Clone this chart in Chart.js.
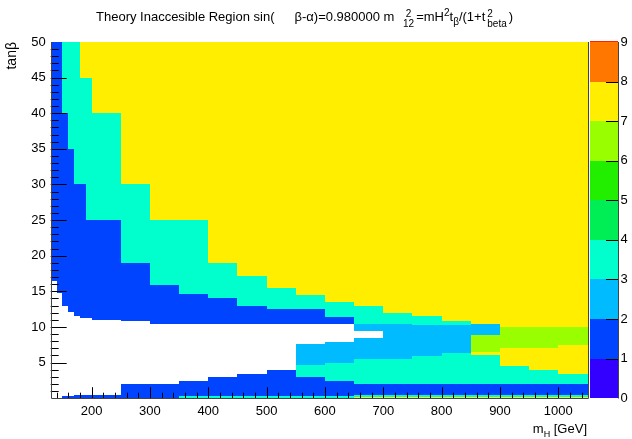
<!DOCTYPE html>
<html>
<head>
<meta charset="utf-8">
<script src="https://cdn.jsdelivr.net/npm/chart.js@4"></script>
<style>
  body { margin: 0; background: #fff; }
  #wrap { position: relative; width: 632px; height: 439px; font-family: "Liberation Sans", Arial, sans-serif; }
  #titre { position: absolute; left: 96px; top: 8px; font-size: 13px; white-space: nowrap; color: #000; }
  #xtitre { position: absolute; right: 45px; top: 421px; font-size: 13px; white-space: nowrap; color: #000; }
  .pile { display: inline-block; vertical-align: middle; line-height: 10px; font-size: 10px; text-align: left; margin: 0 2px; position: relative; top: 1px; }
  .pile span { display: block; }
  sup, sub { font-size: 10px; line-height: 0; }
</style>
</head>
<body>
<div id="wrap">
  <canvas id="grafico" width="632" height="439"></canvas>
  <div id="titre">Theory Inaccesible Region sin(<span style="margin-left:20px">β-α)=0.980000 m </span><span class="pile" style="margin-left:5px"><span>&nbsp;2</span><span>12</span></span>=mH<sup>2</sup>t<sub>β</sub>/(1+t<span class="pile"><span>2</span><span>beta</span></span>)</div>
  <div id="xtitre">m<sub style="font-size:9px">H</sub> [GeV]</div>
</div>
<script>
// --- DADOS ---

// bordas das colunas em m_H [GeV]
const massEdges = [130, 140, 150, 160, 170, 180, 190, 200, 250, 300, 350, 400, 450, 500,
                   550, 600, 650, 700, 750, 800, 850, 900, 950, 1000, 1050];

// bordas em tanβ de cada coluna (de baixo para cima)
const tanbEdges = [
    [0, 16.5, 50],
    [0, 14.7, 50],
    [0, 0.25, 13.0, 40, 50],
    [0, 0.25, 12.1, 35, 50],
    [0, 0.4, 11.6, 30, 50],
    [0, 0.4, 11.3, 30, 45, 50],
    [0, 0.4, 11.3, 25, 45, 50],
    [0, 0.4, 11.0, 25, 40, 50],
    [0, 1.93, 10.8, 19, 30, 50],
    [0, 1.93, 10.45, 15.9, 25, 50],
    [0, 0.25, 2.4, 10.45, 14.56, 25, 50],
    [0, 0.25, 3.0, 10.4, 14.0, 19, 50],
    [0, 0.25, 3.4, 10.4, 12.9, 17.1, 50],
    [0, 0.25, 3.9, 10.4, 12.5, 15.4, 50],
    [0, 0.25, 3.0, 4.7, 7.55, 10.4, 12.5, 14.5, 50],
    [0, 0.25, 2.4, 5.0, 7.9, 10.4, 11.45, 13.45, 50],
    [0, 0.23, 0.45, 2.0, 5.5, 8.5, 9.4, 10.4, 12.95, 50],
    [0, 0.23, 0.45, 2.0, 5.5, 10.4, 12.0, 50],
    [0, 0.23, 0.45, 2.0, 5.9, 10.3, 11.5, 50],
    [0, 0.23, 0.45, 2.0, 6.4, 10.3, 10.9, 50],
    [0, 0.23, 0.45, 2.0, 6.0, 6.45, 8.9, 10.4, 50],
    [0, 0.23, 0.45, 2.0, 4.45, 7.0, 10.0, 50],
    [0, 0.23, 0.45, 2.0, 3.9, 7.0, 10.0, 50],
    [0, 0.23, 0.45, 2.0, 3.44, 7.4, 10.0, 50]
];

// conteúdo (z) de cada faixa; 0 = vazio (branco)
const zValues = [
    [0, 1],
    [0, 1],
    [1, 0, 1, 3],
    [1, 0, 1, 3],
    [1, 0, 1, 3],
    [1, 0, 1, 3, 7],
    [1, 0, 1, 3, 7],
    [1, 0, 1, 3, 7],
    [1, 0, 1, 3, 7],
    [1, 0, 1, 3, 7],
    [3, 1, 0, 1, 3, 7],
    [3, 1, 0, 1, 3, 7],
    [3, 1, 0, 1, 3, 7],
    [3, 1, 0, 1, 3, 7],
    [3, 1, 3, 2, 0, 1, 3, 7],
    [3, 1, 3, 2, 0, 1, 3, 7],
    [7, 3, 1, 3, 2, 0, 2, 3, 7],
    [7, 3, 1, 3, 2, 3, 7],
    [7, 3, 1, 3, 2, 3, 7],
    [7, 3, 1, 3, 2, 3, 7],
    [7, 3, 1, 3, 7, 6, 2, 7],
    [7, 3, 1, 3, 7, 6, 7],
    [7, 3, 1, 3, 7, 6, 7],
    [7, 3, 1, 3, 7, 6, 7]
];

// paleta: uma cor por nível de contorno (0-1, 1-2, ... 8-9)
const paletteColours = ['#3300ff', '#0044ff', '#00bbff', '#00ffcc', '#00ee55',
                        '#22ee00', '#99ff00', '#ffee00', '#ff7700'];

const xTickLabels = [200, 300, 400, 500, 600, 700, 800, 900, 1000];
const yTickLabels = [5, 10, 15, 20, 25, 30, 35, 40, 45, 50];
const zTickLabels = [0, 1, 2, 3, 4, 5, 6, 7, 8, 9];

const fonte = '"Liberation Sans", Arial, sans-serif';

// --- PLUGIN: células do mapa, paleta e marcas dos eixos ---

const mapaCores = {
    id: 'mapaCores',
    beforeDatasetsDraw(chart) {
        const { ctx, scales: { x, y, zAxis } } = chart;
        ctx.save();
        for (let i = 0; i < zValues.length; i++) {
            const x0 = Math.round(x.getPixelForValue(massEdges[i]));
            const x1 = Math.round(x.getPixelForValue(massEdges[i + 1]));
            for (let j = 0; j < zValues[i].length; j++) {
                const z = zValues[i][j];
                if (z <= 0) continue;
                const yTop = Math.round(y.getPixelForValue(tanbEdges[i][j + 1]));
                const yBot = Math.round(y.getPixelForValue(tanbEdges[i][j]));
                ctx.fillStyle = paletteColours[Math.floor(z)];
                ctx.fillRect(x0, yTop, x1 - x0, yBot - yTop);
            }
        }

        // barra da paleta
        const bx0 = Math.round(zAxis.left) + 2, bx1 = bx0 + 28;
        for (let k = 0; k < paletteColours.length; k++) {
            const yTop = Math.round(zAxis.getPixelForValue(k + 1));
            const yBot = Math.round(zAxis.getPixelForValue(k));
            ctx.fillStyle = paletteColours[k];
            ctx.fillRect(bx0, yTop, bx1 - bx0, yBot - yTop);
        }
        ctx.fillStyle = '#ff2200';
        ctx.fillRect(bx0, Math.round(zAxis.getPixelForValue(9)) - 1, 28, 1);
        ctx.restore();
    },
    afterDraw(chart) {
        const { ctx, chartArea: a, scales: { x, y, zAxis } } = chart;
        ctx.save();
        ctx.strokeStyle = '#000';
        ctx.lineWidth = 1;
        ctx.beginPath();
        // marcas do eixo x (principal a cada 100, secundária a cada 20)
        for (let m = 140; m < 1050; m += 20) {
            const px = Math.round(x.getPixelForValue(m)) + 0.5;
            const len = m % 100 === 0 ? 11 : 5.5;
            ctx.moveTo(px, a.bottom);
            ctx.lineTo(px, a.bottom - len);
        }
        // marcas do eixo y (principal a cada 5, secundária a cada 1)
        for (let t = 1; t < 50; t += 1) {
            const py = Math.round(y.getPixelForValue(t)) + 0.5;
            const len = t % 5 === 0 ? 16 : 8;
            ctx.moveTo(a.left, py);
            ctx.lineTo(a.left + len, py);
        }
        // marcas da paleta
        const bx1 = Math.round(zAxis.left) + 30;
        for (let k = 1; k < 9; k++) {
            const py = Math.round(zAxis.getPixelForValue(k)) + 0.5;
            ctx.moveTo(bx1, py);
            ctx.lineTo(bx1 - 12, py);
        }
        ctx.stroke();

        // moldura
        ctx.strokeStyle = '#444';
        ctx.beginPath();
        ctx.moveTo(Math.round(a.left) + 0.5, Math.round(a.top));
        ctx.lineTo(Math.round(a.left) + 0.5, Math.round(a.bottom) + 0.5);
        ctx.lineTo(Math.round(a.right) + 0.5, Math.round(a.bottom) + 0.5);
        ctx.lineTo(Math.round(a.right) + 0.5, Math.round(a.top));
        ctx.moveTo(bx1 + 0.5, Math.round(a.top));
        ctx.lineTo(bx1 + 0.5, Math.round(a.bottom) + 0.5);
        ctx.stroke();
        ctx.restore();
    }
};

const fixarTicks = valores => scale => { scale.ticks = valores.map(v => ({ value: v })); };
const rotulo = v => String(v);

new Chart(document.getElementById('grafico'), {
    type: 'scatter',
    data: { datasets: [] },
    options: {
        responsive: false,
        animation: false,
        layout: { padding: { top: 42, left: 0, right: 0, bottom: 0 } },
        plugins: { legend: { display: false }, tooltip: { enabled: false }, title: { display: false } },
        scales: {
            x: {
                type: 'linear', min: 130, max: 1050,
                grid: { display: false, drawTicks: false }, border: { display: false },
                afterBuildTicks: fixarTicks(xTickLabels),
                afterFit: s => { s.height = 34; },
                ticks: { color: '#000', padding: 5, maxRotation: 0, callback: rotulo, font: { family: fonte, size: 13 } }
            },
            y: {
                type: 'linear', min: 0, max: 50,
                grid: { display: false, drawTicks: false }, border: { display: false },
                afterBuildTicks: fixarTicks(yTickLabels),
                afterFit: s => { s.width = 50.7; },
                ticks: { color: '#000', padding: 5, callback: rotulo, font: { family: fonte, size: 13 } },
                title: { display: true, text: 'tanβ', align: 'end', color: '#000',
                         padding: { top: 4, bottom: 0 }, font: { family: fonte, size: 14 } }
            },
            zAxis: {
                axis: 'y', type: 'linear', position: 'right', min: 0, max: 9,
                grid: { display: false, drawTicks: false }, border: { display: false },
                afterBuildTicks: fixarTicks(zTickLabels),
                afterFit: s => { s.width = 44.5; },
                ticks: { color: '#000', padding: 33, callback: rotulo, font: { family: fonte, size: 13 } }
            }
        }
    },
    plugins: [mapaCores]
});
</script>
</body>
</html>
